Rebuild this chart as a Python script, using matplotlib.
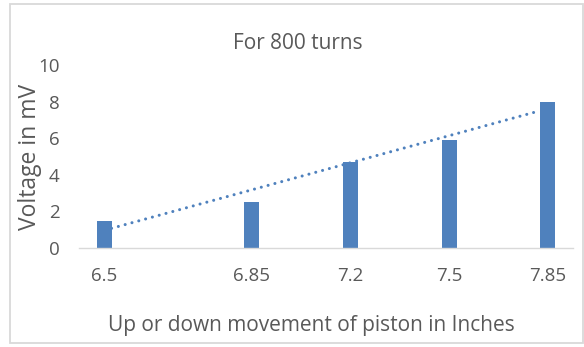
import matplotlib
matplotlib.use("Agg")
import matplotlib.pyplot as plt
import numpy as np

# Data
positions = ["6.5", "6.85", "7.2", "7.5", "7.85"]
voltage = [1.45, 2.5, 4.7, 5.9, 8.0]
slots = [0, 1.5, 2.5, 3.5, 4.5]  # where the bars sit on the category axis

blue = "#4F81BD"
grey = "#595959"
plt.rcParams['font.family'] = ['Open Sans', 'DejaVu Sans']

fig = plt.figure(figsize=(5.84, 3.47), dpi=100)
ax = fig.add_axes([0.1353, 0.2853, 0.8457, 0.5274])

bw = 0.152
ax.bar(slots, voltage, width=bw, color=blue, zorder=2)

# linear trendline
k, b = np.polyfit(slots, voltage, 1)
tx = np.array([slots[0] + bw / 2, slots[-1] - bw / 2])
ax.plot(tx, k * tx + b, color=blue, linewidth=2.2,
        linestyle=(0, (0.01, 2.3)), dash_capstyle='round', zorder=3)

ax.set_xlim(-0.254, 4.757)
ax.set_ylim(0, 10)
ax.set_yticks(range(0, 11, 2))
ax.set_xticks(slots)
ax.set_xticklabels(positions)
ax.tick_params(axis='both', length=0, labelsize=13.5, colors=grey)
ax.tick_params(axis='x', pad=14)
ax.tick_params(axis='y', pad=14)

for s in ['top', 'right', 'left']:
    ax.spines[s].set_visible(False)
ax.spines['bottom'].set_color('#D9D9D9')
ax.spines['bottom'].set_linewidth(1.0)

fig.text(0.510, 0.876, "For 800 turns", ha='center', va='center', fontsize=15, color=grey)
fig.text(0.051, 0.548, "Voltage in mV", ha='center', va='center', rotation=90, fontsize=16.5, color=grey)
fig.text(0.534, 0.063, "Up or down movement of piston in Inches", ha='center', va='center', fontsize=15, color=grey)

# chart frame
frame = plt.Rectangle((10 / 584, 4 / 347), 573 / 584, 339 / 347, transform=fig.transFigure,
                      fill=False, edgecolor='#D9D9D9', linewidth=1.3)
fig.patches.append(frame)

fig.savefig("out.png", dpi=100)
